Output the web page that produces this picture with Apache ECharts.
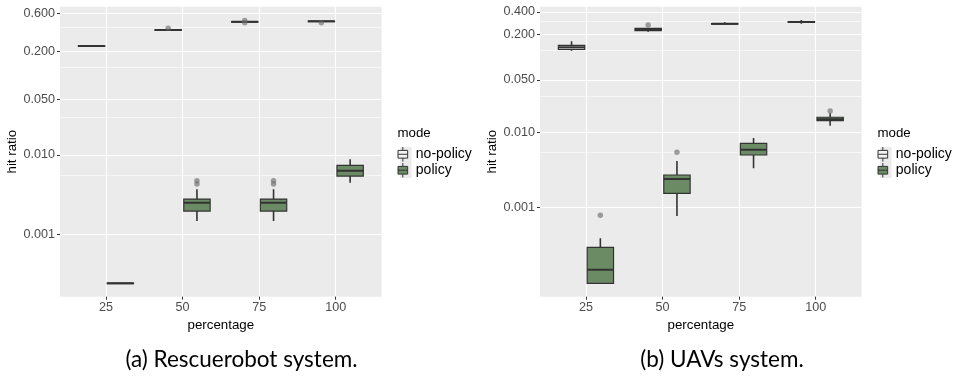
<!DOCTYPE html>
<html><head><meta charset="utf-8">
<script src="https://cdn.jsdelivr.net/npm/echarts@6/dist/echarts.min.js"></script>
<style>html,body{margin:0;padding:0;background:#fff}#c{width:963px;height:376px}</style>
</head><body><div id="c"></div>
<script>
// ---------------- data ----------------
const percentages = [25, 50, 75, 100];
const modes = ['no-policy', 'policy'];
// box stats per percentage: [min, q1, median, q3, max]
const rescueNoPolicy = [
  [0.232, 0.233, 0.233, 0.234, 0.234],
  [0.362, 0.366, 0.370, 0.374, 0.378],
  [0.466, 0.469, 0.471, 0.474, 0.477],
  [0.470, 0.474, 0.477, 0.480, 0.483]
];
const rescuePolicy = [
  [0.000243, 0.000244, 0.000244, 0.000245, 0.000245],
  [0.00148, 0.00197, 0.00251, 0.00279, 0.0037],
  [0.00148, 0.00197, 0.00251, 0.00279, 0.0037],
  [0.00448, 0.00543, 0.00633, 0.0074, 0.0088]
];
const rescueNoPolicyOutliers = [[50, 0.389], [75, 0.488], [75, 0.458], [100, 0.458]];
const rescuePolicyOutliers = [[50, 0.00474], [50, 0.00431], [75, 0.00474], [75, 0.00431]];

const uavNoPolicy = [
  [0.1216, 0.127, 0.135, 0.1435, 0.162],
  [0.2175, 0.2243, 0.234, 0.241, 0.241],
  [0.276, 0.277, 0.278, 0.279, 0.290],
  [0.278, 0.289, 0.292, 0.295, 0.311]
];
const uavPolicy = [
  [0.000099, 0.000099, 0.000150, 0.000298, 0.000392],
  [0.000776, 0.00155, 0.0024, 0.00272, 0.00417],
  [0.00334, 0.00501, 0.00589, 0.00716, 0.00843],
  [0.01227, 0.0143, 0.0149, 0.0159, 0.01794]
];
const uavNoPolicyOutliers = [[50, 0.267]];
const uavPolicyOutliers = [[25, 0.000793], [50, 0.00544], [100, 0.01923]];

const rescueYTicks = [0.001, 0.01, 0.05, 0.2, 0.6];
const rescueYMinor = [0.0055, 0.03, 0.125, 0.4];
const uavYTicks = [0.001, 0.01, 0.05, 0.2, 0.4];
const uavYMinor = [0.0055, 0.03, 0.125, 0.3];
const captions = ['(a) Rescuerobot system.', '(b) UAVs system.'];

// ---------------- style / layout ----------------
const FONT = 'Liberation Sans, Arial, sans-serif';
const FILL = { 'no-policy': '#f3f3f3', 'policy': '#6b8b64' };
const DODGE = 4.7, HALF = 4.3;
const X_MIN = 10, X_MAX = 115;
const panels = [
  { left: 60, noP: rescueNoPolicy, p: rescuePolicy, noPOut: rescueNoPolicyOutliers, pOut: rescuePolicyOutliers,
    ticks: rescueYTicks, minor: rescueYMinor, ymin: 1.655e-4, ymax: 0.728, legendLeft: 397.5, capX: 241.5 },
  { left: 540, noP: uavNoPolicy, p: uavPolicy, noPOut: uavNoPolicyOutliers, pOut: uavPolicyOutliers,
    ticks: uavYTicks, minor: uavYMinor, ymin: 6.58e-5, ymax: 0.467, legendLeft: 877.5, capX: 722 }
];

function boxRenderer(offset, fill) {
  return function (params, api) {
    const x = api.value(0) + offset;
    const lo = api.value(1), q1 = api.value(2), med = api.value(3), q3 = api.value(4), hi = api.value(5);
    const tl = api.coord([x - HALF, q3]);
    const br = api.coord([x + HALF, q1]);
    const c = api.coord([x, med]);
    const pHi = api.coord([x, hi]);
    const pLo = api.coord([x, lo]);
    const ln = { stroke: '#333333', lineWidth: 1.6 };
    return {
      type: 'group',
      children: [
        { type: 'line', shape: { x1: c[0], y1: pHi[1], x2: c[0], y2: tl[1] }, style: ln },
        { type: 'line', shape: { x1: c[0], y1: br[1], x2: c[0], y2: pLo[1] }, style: ln },
        { type: 'rect', shape: { x: tl[0], y: tl[1], width: br[0] - tl[0], height: Math.max(br[1] - tl[1], 0.5) },
          style: { fill: fill, stroke: '#333333', lineWidth: 1.2 } },
        { type: 'line', shape: { x1: tl[0], y1: c[1], x2: br[0], y2: c[1] }, style: { stroke: '#333333', lineWidth: 2 } }
      ]
    };
  };
}

const grid = [], xAxis = [], yAxis = [], series = [], legend = [], graphic = [];
const ICON = 'path://M5,0L5,3.5M0,3.5L10,3.5L10,11.5L0,11.5ZM0,7.5L10,7.5M5,11.5L5,15';

panels.forEach((pn, i) => {
  grid.push({ left: pn.left, top: 6.7, width: 321.7, height: 290, show: true, backgroundColor: '#ebebeb', borderWidth: 0 });
  xAxis.push({
    type: 'value', gridIndex: i, min: X_MIN, max: X_MAX,
    name: 'percentage', nameLocation: 'middle', nameGap: 17,
    nameTextStyle: { color: '#000', fontSize: 13.3, fontFamily: FONT },
    axisLine: { show: false },
    axisTick: { show: true, length: 3, lineStyle: { color: '#333', width: 1 }, customValues: percentages },
    axisLabel: { customValues: percentages, color: '#4d4d4d', fontSize: 12.6, margin: 4, fontFamily: FONT },
    splitLine: { show: true, lineStyle: { color: '#ffffff', width: 1.1 } }
  });
  yAxis.push({
    type: 'log', gridIndex: i, min: pn.ymin, max: pn.ymax,
    name: 'hit ratio', nameLocation: 'middle', nameGap: 41,
    nameTextStyle: { color: '#000', fontSize: 13.3, fontFamily: FONT },
    axisLine: { show: false },
    axisTick: { show: true, length: 3, lineStyle: { color: '#333', width: 1 }, customValues: pn.ticks },
    axisLabel: { customValues: pn.ticks, color: '#4d4d4d', fontSize: 12.6, margin: 5, fontFamily: FONT,
      formatter: v => Number(v).toFixed(3) },
    splitLine: { show: true, lineStyle: { color: '#ffffff', width: 1.1 } }
  });
  yAxis.push({
    type: 'log', gridIndex: i, min: pn.ymin, max: pn.ymax,
    axisLine: { show: false },
    axisTick: { show: false, customValues: pn.minor },
    axisLabel: { show: false, customValues: pn.minor },
    splitLine: { show: true, lineStyle: { color: '#ffffff', width: 0.55 } }
  });
  const yIdx = i * 2;
  [['no-policy', pn.noP, -DODGE], ['policy', pn.p, DODGE]].forEach(([name, stats, off]) => {
    series.push({
      type: 'custom', name: name, xAxisIndex: i, yAxisIndex: yIdx, clip: true,
      itemStyle: { color: FILL[name], borderColor: '#333' },
      renderItem: boxRenderer(off, FILL[name]),
      data: stats.map((s, k) => [percentages[k]].concat(s)),
      encode: { x: 0, y: [1, 2, 3, 4, 5] }, z: 3
    });
  });
  [[pn.noPOut, -DODGE], [pn.pOut, DODGE]].forEach(([out, off]) => {
    series.push({
      type: 'scatter', name: 'outlier', xAxisIndex: i, yAxisIndex: yIdx, symbolSize: 5.5,
      itemStyle: { color: 'rgba(100,100,100,0.75)' }, z: 4, silent: true,
      data: out.map(([p, v]) => [p + off, v])
    });
  });
  legend.push({
    orient: 'vertical', left: pn.legendLeft, top: 146.5, padding: 0, itemGap: 0.5,
    itemWidth: 16, itemHeight: 14.5, symbolKeepAspect: true,
    textStyle: { fontSize: 14, color: '#000', fontFamily: FONT },
    data: modes.map(m => ({ name: m, icon: ICON, itemStyle: { color: FILL[m], borderColor: '#333', borderWidth: 1 } }))
  });
  graphic.push({ type: 'rect', left: pn.legendLeft + 2.5, top: 147, shape: { width: 11.5, height: 31 },
    style: { fill: '#ebebeb' }, z: -1, silent: true });
  graphic.push({ type: 'text', left: pn.legendLeft, top: 126.5,
    style: { text: 'mode', fontSize: 13.3, fill: '#000', fontFamily: FONT } });
  graphic.push({ type: 'text', x: pn.capX, y: 360,
    style: { text: captions[i], fontSize: 22.5, fill: '#000', fontFamily: 'Lato, "Open Sans", sans-serif',
      align: 'center', verticalAlign: 'middle' } });
});

const chart = echarts.init(document.getElementById('c'), null, { renderer: 'canvas' });
chart.setOption({ animation: false, backgroundColor: '#fff', grid, xAxis, yAxis, series, legend, graphic });
</script></body></html>
